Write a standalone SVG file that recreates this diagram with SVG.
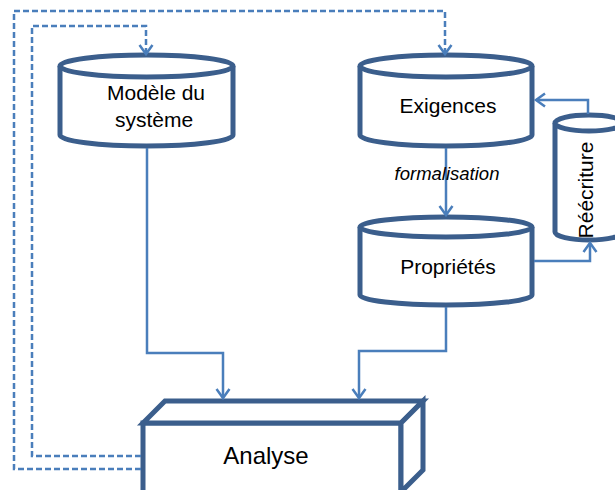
<svg xmlns="http://www.w3.org/2000/svg" width="615" height="490" viewBox="0 0 615 490">
  <style>
    .node { fill: #ffffff; stroke: #3B5E8C; stroke-width: 5; stroke-linejoin: miter; }
    .lbl { font-family: "Liberation Sans", Arial, sans-serif; font-size: 21px; fill: #000000; text-anchor: middle; }
    .conn { fill: none; stroke: #4A7EBB; stroke-width: 2.5; }
    .dash { stroke-dasharray: 6 3; }
  </style>
  <defs>
    <marker id="arr" markerUnits="userSpaceOnUse" markerWidth="20" markerHeight="20" viewBox="-12 -10 14 20" refX="0" refY="0" orient="auto">
      <path d="M-9,-6.5 L0,0 L-9,6.5" fill="none" stroke="#4A7EBB" stroke-width="2.5" stroke-dasharray="none"/>
    </marker>
  </defs>

  <rect width="615" height="490" fill="#ffffff"/>

  <g id="modele">
    <path class="node" d="M60,66 V135 A86.5,11 0 0 0 233,135 V66"/>
    <ellipse class="node" cx="146.5" cy="66" rx="86.5" ry="11"/>
    <text class="lbl" x="156" y="100">Modèle du</text>
    <text class="lbl" x="154" y="127">système</text>
  </g>

  <g id="exigences">
    <path class="node" d="M360,66 V135 A86,11 0 0 0 532,135 V66"/>
    <ellipse class="node" cx="446" cy="66" rx="86" ry="11"/>
    <text class="lbl" x="448" y="113">Exigences</text>
  </g>

  <g id="proprietes">
    <path class="node" d="M360,227 V295 A86,10 0 0 0 532,295 V227"/>
    <ellipse class="node" cx="446" cy="227" rx="86" ry="10"/>
    <text class="lbl" x="448" y="274">Propriétés</text>
  </g>

  <g id="reecriture">
    <path class="node" d="M555,123 V232 A34,8 0 0 0 623,232 V123"/>
    <ellipse class="node" cx="589" cy="123" rx="34" ry="8"/>
    <text class="lbl" transform="translate(593,190) rotate(-90)" x="0" y="0">Réécriture</text>
  </g>

  <g id="analyse">
    <rect class="node" x="143" y="423" width="258" height="70"/>
    <polygon class="node" points="143,423 165,401 423,401 401,423"/>
    <polygon class="node" points="401,423 423,401 423,470 401,492"/>
    <text class="lbl" x="266" y="464" style="font-size:24px">Analyse</text>
  </g>

  <g id="connectors">
    <path class="conn dash" d="M141,469 H14 V11 H445 V54" marker-end="url(#arr)"/>
    <path class="conn dash" d="M141,456 H32 V26 H146 V54" marker-end="url(#arr)"/>
    <path class="conn" d="M147,148 V353 H223 V398" marker-end="url(#arr)"/>
    <path class="conn" d="M446,307 V351 H359 V398" marker-end="url(#arr)"/>
    <path class="conn" d="M446,148 V215" marker-end="url(#arr)"/>
    <path class="conn" d="M534,261 H590 V243" marker-end="url(#arr)"/>
    <path class="conn" d="M588,114 V100 H536" marker-end="url(#arr)"/>
    <text x="447" y="180" style="font-family:'Liberation Sans', Arial, sans-serif; font-size:18.5px; font-style:italic; text-anchor:middle; fill:#000000">formalisation</text>
  </g>
</svg>
